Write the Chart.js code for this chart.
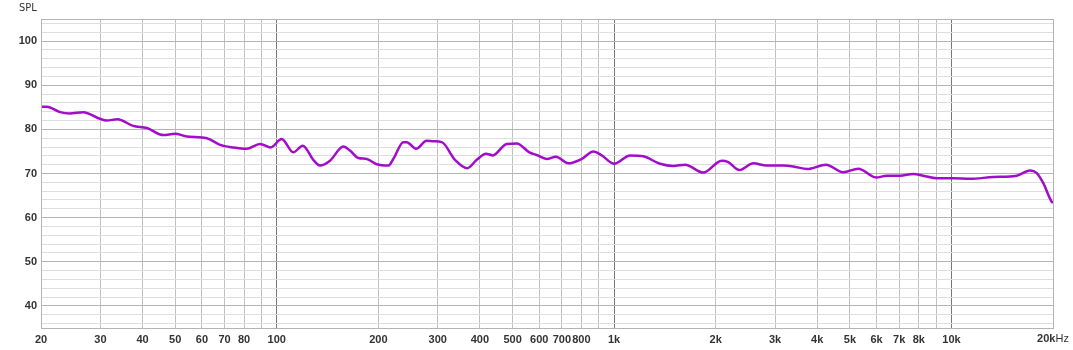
<!DOCTYPE html>
<html>
<head>
<meta charset="utf-8">
<script src="https://cdn.jsdelivr.net/npm/chart.js@4"></script>
<style>
  html, body { margin: 0; padding: 0; background: #fff; }
  #wrap { width: 1073px; height: 350px; }
</style>
</head>
<body>
<div id="wrap"><canvas id="fr"></canvas></div>
<script>
// frequency response
const freqs = [20, 20.8, 22.8, 24.3, 26.7, 29.9, 31.3, 33.7, 37.5, 41.2,
  46.1, 49.9, 54.1, 62, 67.9, 74.3, 81.4, 89.2, 95.9, 103.4,
  111.9, 119.4, 128.3, 134.3, 143.8, 157.5, 164.8, 174.5, 184.8, 197.8,
  214.2, 222.6, 237.2, 242.8, 258.7, 278.2, 291.1, 308.3, 337.6, 367,
  391.5, 417.2, 436.6, 480.4, 514.5, 560.6, 589.6, 631.2, 672.7, 731.6,
  801.8, 867.8, 918.8, 1001, 1115, 1220, 1368, 1498, 1623, 1838,
  2084, 2180, 2350, 2586, 2834, 3174, 3398, 3738, 4248, 4780,
  5296, 5977, 6428, 7040, 7706, 8252, 9042, 10128, 11350, 13310,
  15610, 17100, 17900, 18720, 19820, 20000];
const spl = [85.1, 85.1, 83.9, 83.6, 83.9, 82.4, 82.0, 82.3, 80.8, 80.3,
  78.7, 79.0, 78.4, 78.0, 76.5, 75.9, 75.6, 76.7, 75.9, 77.8,
  74.8, 76.3, 73.1, 71.8, 72.9, 76.1, 75.2, 73.5, 73.3, 72.1,
  71.8, 73.6, 77.1, 77.1, 75.6, 77.4, 77.3, 77.1, 73.1, 71.2,
  73.1, 74.5, 74.1, 76.7, 76.8, 74.8, 74.2, 73.3, 73.8, 72.3,
  73.3, 75.0, 74.1, 72.2, 74.1, 73.9, 72.2, 71.7, 72.0, 70.2,
  72.9, 72.6, 70.8, 72.3, 71.8, 71.8, 71.6, 71.0, 72.0, 70.3,
  71.1, 69.1, 69.5, 69.5, 69.9, 69.5, 68.9, 68.9, 68.8, 69.2,
  69.5, 70.7, 70.1, 67.8, 63.6, 63.4];

const xTicks = [20, 30, 40, 50, 60, 70, 80, 90, 100, 200, 300, 400, 500, 600, 700, 800, 900,
  1000, 2000, 3000, 4000, 5000, 6000, 7000, 8000, 9000, 10000, 20000];
const xLabels = ["20", "30", "40", "50", "60", "70", "80", "", "100", "200", "300", "400", "500", "600", "700", "800", "",
  "1k", "2k", "3k", "4k", "5k", "6k", "7k", "8k", "", "10k", ""];
const lastLabel = ["20k", "Hz"];
const yTicks = [36, 38, 40, 42, 44, 46, 48, 50, 52, 54, 56, 58, 60, 62, 64, 66, 68, 70,
  72, 74, 76, 78, 80, 82, 84, 86, 88, 90, 92, 94, 96, 98, 100, 102, 104];

const tickFont = { family: "'Liberation Sans', sans-serif", size: 11, weight: "bold" };

const frame = {
  id: "frame",
  afterDraw(chart) {
    const a = chart.chartArea, ctx = chart.ctx;
    ctx.save();
    ctx.strokeStyle = "#b4b4b4";
    ctx.lineWidth = 1;
    ctx.strokeRect(a.left + 0.5, a.top + 0.5, a.right - a.left, a.bottom - a.top);
    ctx.fillStyle = "#333";
    ctx.textBaseline = "middle";
    ctx.font = "condensed 11px 'DejaVu Sans', sans-serif";
    ctx.fillText("SPL", 19, 8);
    // last x label: bold number, regular unit
    const bold = "bold 11px 'Liberation Sans', sans-serif";
    const reg = "11px 'Liberation Sans', sans-serif";
    ctx.font = bold;
    const w1 = ctx.measureText(lastLabel[0]).width;
    ctx.font = reg;
    const w2 = ctx.measureText(lastLabel[1]).width;
    const cx = chart.scales.x.getPixelForValue(20000);
    const y = a.bottom + 11;
    ctx.font = bold;
    ctx.fillText(lastLabel[0], cx - (w1 + w2) / 2, y);
    ctx.font = reg;
    ctx.fillText(lastLabel[1], cx - (w1 + w2) / 2 + w1, y);
    ctx.restore();
  }
};

new Chart("fr", {
  type: "line",
  data: {
    datasets: [{
      data: freqs.map((f, i) => ({ x: f, y: spl[i] })),
      borderColor: "#a20ccb",
      borderWidth: 2.5,
      pointRadius: 0,
      fill: false,
      cubicInterpolationMode: "monotone"
    }]
  },
  options: {
    responsive: true,
    maintainAspectRatio: false,
    animation: false,
    layout: { padding: { top: 19, right: 20, left: 0, bottom: 0 } },
    plugins: { legend: { display: false }, tooltip: { enabled: false } },
    scales: {
      x: {
        type: "logarithmic",
        min: 20, max: 20000,
        afterBuildTicks: s => { s.ticks = xTicks.map(v => ({ value: v })); },
        afterFit: s => { s.height = 22; },
        ticks: {
          autoSkip: false, maxRotation: 0, padding: 5,
          color: "#333", font: tickFont,
          callback: (v, i) => xLabels[i]
        },
        grid: {
          color: c => [100, 1000, 10000].includes(c.tick && c.tick.value) ? "#777" : "#c0c0c0",
          drawTicks: false
        },
        border: { display: false }
      },
      y: {
        min: 35, max: 105,
        afterBuildTicks: s => { s.ticks = yTicks.map(v => ({ value: v })); },
        afterFit: s => { s.width = 41; },
        ticks: {
          autoSkip: false, padding: 4,
          color: "#333", font: tickFont,
          callback: v => (v % 10 === 0 ? String(v) : "")
        },
        grid: {
          color: c => (c.tick && c.tick.value % 10 === 0) ? "#b4b4b4" : "#dedede",
          drawTicks: false
        },
        border: { display: false }
      }
    }
  },
  plugins: [frame]
});
</script>
</body>
</html>
